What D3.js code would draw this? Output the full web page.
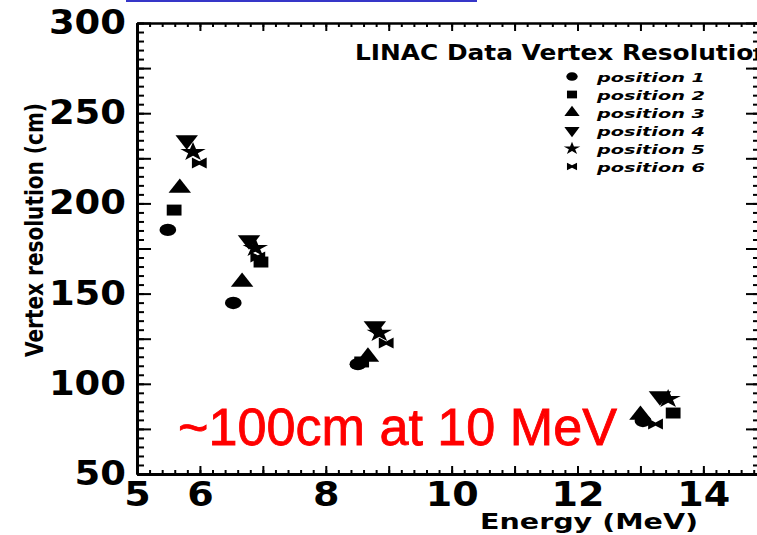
<html>
<head>
<meta charset="utf-8">
<script src="https://d3js.org/d3.v7.min.js"></script>
<style>
body { margin: 0; background: #fff; }
svg { display: block; }
.axis line, .axis path { stroke: #000; }
.lab text {
  font-family: "DejaVu Sans", sans-serif;
  font-weight: bold;
  font-size: 33px;
  fill: #000;
}
</style>
</head>
<body>
<svg width="757" height="535"></svg>
<script>

// values: energy (MeV) and vertex resolution (cm) per position
var seriesNames = ["position 1", "position 2", "position 3", "position 4", "position 5", "position 6"];
var energy1 = [5.49, 6.53, 8.51, 13.04];
var reso1   = [185.3, 144.8, 110.9, 79.4];
var energy2 = [5.59, 6.97, 8.57, 13.52];
var reso2   = [196.3, 167.5, 112.1, 83.8];
var energy3 = [5.68, 6.67, 8.67, 13.00];
var reso3   = [208.5, 156.4, 114.9, 82.7];
var energy4 = [5.79, 6.78, 8.78, 13.31];
var reso4   = [235.1, 179.7, 132.0, 93.2];
var energy5 = [5.89, 6.88, 8.85, 13.44];
var reso5   = [228.5, 175.3, 128.2, 91.6];
var energy6 = [5.99, 6.92, 8.96, 13.24];
var reso6   = [222.4, 170.3, 122.6, 77.7];

var xTickLabels = [5, 6, 8, 10, 12, 14];
var yTickLabels = [50, 100, 150, 200, 250, 300];

var energies = [energy1, energy2, energy3, energy4, energy5, energy6];
var resos = [reso1, reso2, reso3, reso4, reso5, reso6];

var svg = d3.select("svg");

var x = d3.scaleLinear().domain([5, 14.9]).range([137, 760]);
var y = d3.scaleLinear().domain([50, 300]).range([474, 23]);

var xMinor = d3.range(5, 14.95, 0.2),
    xMajor = d3.range(5, 15, 1),
    yMinor = d3.range(50, 300.1, 5),
    yMajor = d3.range(50, 301, 25);

// blue strip at the very top
svg.append("rect").attr("x", 126).attr("y", 0).attr("width", 351).attr("height", 2).attr("fill", "#3636c8");

// ticks on all four sides, pointing inwards
function tickAxis(axis, vals, size) {
    return axis.tickValues(vals).tickSize(size).tickSizeOuter(0).tickFormat("");
}

function addTicks(axisFn, scale, tf, minor, major, sMin, sMaj, w) {
    [[minor, sMin], [major, sMaj]].forEach(function(p) {
        var g = svg.append("g").attr("class", "axis").attr("transform", tf)
            .call(tickAxis(axisFn(scale), p[0], p[1]));
        g.selectAll("line").attr("stroke-width", 2);
        g.select(".domain").attr("stroke-width", w);
    });
}

addTicks(d3.axisBottom, x, "translate(0,474)", xMinor, xMajor, -4, -8, 3);
addTicks(d3.axisTop, x, "translate(0,23)", xMinor, xMajor, -4, -8, 2);
addTicks(d3.axisLeft, y, "translate(137,0)", yMinor, yMajor, -7, -14, 3);
addTicks(d3.axisRight, y, "translate(760,0)", yMinor, yMajor, -7, -14, 2);

// tick labels, wide heavy digits like the picture
var xl = svg.append("g").attr("class", "lab").attr("transform", "translate(0,474)")
    .call(d3.axisBottom(x).tickValues(xTickLabels).tickSize(0).tickPadding(9).tickFormat(d3.format("d")));
xl.select(".domain").remove();
xl.selectAll("text")
    .attr("textLength", d => String(d).length * 26.5)
    .attr("lengthAdjust", "spacingAndGlyphs");

var yl = svg.append("g").attr("class", "lab").attr("transform", "translate(137,0)")
    .call(d3.axisLeft(y).tickValues(yTickLabels).tickSize(0).tickPadding(11).tickFormat(d3.format("d")));
yl.select(".domain").remove();
yl.selectAll("text")
    .attr("textLength", d => String(d).length * 25.7)
    .attr("lengthAdjust", "spacingAndGlyphs");

// axis titles
svg.append("text")
    .attr("x", 480).attr("y", 529)
    .attr("textLength", 218).attr("lengthAdjust", "spacingAndGlyphs")
    .style("font-family", "DejaVu Sans").style("font-weight", "bold").style("font-size", "21px")
    .text("Energy (MeV)");

svg.append("text")
    .attr("transform", "translate(43,230) rotate(-90)")
    .attr("text-anchor", "middle")
    .attr("textLength", 254).attr("lengthAdjust", "spacingAndGlyphs")
    .style("font-family", "DejaVu Sans").style("font-weight", "bold").style("font-size", "25px")
    .text("Vertex resolution (cm)");

// marker shapes
var symbolBowtie = {
    draw: function(ctx, size) {
        var r = Math.sqrt(size) / 2;
        ctx.moveTo(-r, -r);
        ctx.lineTo(0, -r * 0.3);
        ctx.lineTo(r, -r);
        ctx.lineTo(r, r);
        ctx.lineTo(0, r * 0.3);
        ctx.lineTo(-r, r);
        ctx.closePath();
    }
};
var shapes = [d3.symbolCircle, d3.symbolSquare, d3.symbolTriangle, d3.symbolTriangle, d3.symbolStar, symbolBowtie];
var flips = [0, 0, 0, 180, 0, 0];

energies.forEach(function(en, i) {
    svg.append("g").selectAll("path")
        .data(en.map((e, j) => ({e: e, r: resos[i][j]})))
        .enter().append("path")
        .attr("d", d3.symbol().type(shapes[i]).size(i == 4 ? 110 : 120))
        .attr("transform", d => "translate(" + x(d.e) + "," + y(d.r) + ") scale(1.35,1) rotate(" + flips[i] + ")")
        .attr("fill", "#000");
});

// title and legend
svg.append("text")
    .attr("x", 355).attr("y", 60)
    .attr("textLength", 416).attr("lengthAdjust", "spacingAndGlyphs")
    .style("font-family", "DejaVu Sans").style("font-weight", "bold").style("font-size", "22px")
    .text("LINAC Data Vertex Resolution");

var leg = svg.append("g").selectAll("g")
    .data(seriesNames)
    .enter().append("g")
    .attr("transform", (d, i) => "translate(0," + (76.5 + i * 18) + ")");

leg.append("path")
    .attr("d", (d, i) => d3.symbol().type(shapes[i]).size(i == 4 ? 50 : 60)())
    .attr("transform", (d, i) => "translate(572,0) scale(1.3,1) rotate(" + flips[i] + ")")
    .attr("fill", "#000");

leg.append("text")
    .attr("x", 597).attr("y", 5)
    .attr("textLength", 108).attr("lengthAdjust", "spacingAndGlyphs")
    .style("font-family", "DejaVu Sans").style("font-weight", "bold").style("font-style", "italic")
    .style("font-size", "13px")
    .text(d => d);

// red annotation
svg.append("text")
    .attr("x", 178).attr("y", 445)
    .attr("textLength", 439).attr("lengthAdjust", "spacingAndGlyphs")
    .style("font-family", "Liberation Sans, Arial, sans-serif").style("font-size", "51px")
    .attr("fill", "#ff0000")
    .attr("stroke", "#ff0000").attr("stroke-width", 0.8)
    .text("~100cm at 10 MeV");

</script>
</body>
</html>
